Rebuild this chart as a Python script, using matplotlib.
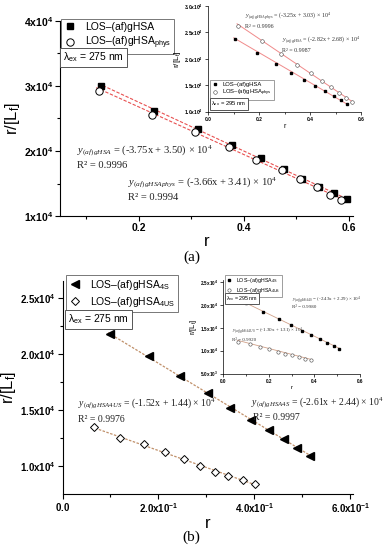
import numpy as np
import matplotlib
matplotlib.use("Agg")
from matplotlib import pyplot as plt

plt.rcParams['font.family'] = ['Liberation Sans', 'DejaVu Sans']
plt.rcParams['mathtext.fontset'] = 'custom'
plt.rcParams['mathtext.rm'] = 'Liberation Serif'
plt.rcParams['mathtext.it'] = 'Liberation Serif:italic'
plt.rcParams['mathtext.sf'] = 'Liberation Sans'
plt.rcParams['mathtext.bf'] = 'Liberation Sans:bold'

# ---- panel (a), lambda_ex = 275 nm
r_a_gHSA = [0.128, 0.229, 0.312, 0.377, 0.432, 0.476, 0.510, 0.543, 0.572, 0.596]
y_a_gHSA = [3.00, 2.62, 2.345, 2.09, 1.90, 1.72, 1.565, 1.45, 1.35, 1.26]
r_a_phys = [0.124, 0.225, 0.308, 0.371, 0.424, 0.472, 0.508, 0.540, 0.564, 0.586]
y_a_phys = [2.93, 2.56, 2.30, 2.06, 1.86, 1.71, 1.565, 1.45, 1.33, 1.24]
fit_a_gHSA = (-3.75, 3.50)
fit_a_phys = (-3.66, 3.41)

# ---- inset (a), lambda_ex = 295 nm
r_ia_gHSA = [0.105, 0.193, 0.265, 0.324, 0.376, 0.421, 0.460, 0.494, 0.520, 0.544]
y_ia_gHSA = [2.37, 2.12, 1.90, 1.74, 1.60, 1.49, 1.40, 1.30, 1.22, 1.14]
r_ia_phys = [0.118, 0.212, 0.286, 0.350, 0.402, 0.445, 0.483, 0.515, 0.541, 0.566]
y_ia_phys = [2.62, 2.33, 2.085, 1.88, 1.73, 1.59, 1.46, 1.36, 1.25, 1.18]
fit_ia_gHSA = (-2.82, 2.68)
fit_ia_phys = (-3.25, 3.03)

# ---- panel (b), lambda_ex = 275 nm
r_b_4S = [0.100, 0.181, 0.246, 0.303, 0.350, 0.393, 0.430, 0.4625, 0.489, 0.515]
y_b_4S = [2.18, 1.98, 1.80, 1.648, 1.52, 1.41, 1.32, 1.235, 1.155, 1.09]
r_b_4US = [0.065, 0.119, 0.169, 0.213, 0.253, 0.286, 0.317, 0.346, 0.376, 0.402]
y_b_4US = [1.344, 1.25, 1.197, 1.123, 1.06, 1.00, 0.946, 0.905, 0.872, 0.836]
fit_b_4S = (-2.61, 2.44)
fit_b_4US = (-1.52, 1.44)

# ---- inset (b), lambda_ex = 295 nm
r_ib_4S = [0.0996, 0.173, 0.243, 0.297, 0.345, 0.386, 0.423, 0.455, 0.485, 0.508]
y_ib_4S = [2.04, 1.85, 1.69, 1.56, 1.44, 1.34, 1.25, 1.17, 1.10, 1.04]
r_ib_4US = [0.066, 0.1185, 0.161, 0.202, 0.239, 0.272, 0.300, 0.331, 0.359, 0.386]
y_ib_4US = [1.20, 1.145, 1.085, 1.03, 0.98, 0.935, 0.90, 0.86, 0.825, 0.79]
fit_ib_4S = (-2.43, 2.29)
fit_ib_4US = (-1.30, 1.31)

SC = 1e4
fig = plt.figure(figsize=(3.83, 5.5), dpi=100)


def fx(px):
    return px / 383.0


def fy(py):
    return 1 - py / 550.0


def sci(m, e):
    # bold tick label like 2.0x10^4
    return '$\\mathbf{%sx10^{%s}}$' % (m, e)


def style_axes(ax, tsize, lw=0.8):
    for s in ['top', 'right']:
        ax.spines[s].set_visible(False)
    for s in ['left', 'bottom']:
        ax.spines[s].set_linewidth(lw)
    ax.tick_params(direction='out', length=3.5 * lw / 0.8, width=lw, labelsize=tsize, pad=1.5)
    ax.tick_params(which='minor', direction='out', length=2 * lw / 0.8, width=lw)
    for t in ax.get_xticklabels() + ax.get_yticklabels():
        t.set_fontweight('bold')


def fitline(ax, r, coef, **kw):
    xs = np.array([min(r) - 0.005, max(r) + 0.005])
    ax.plot(xs, (coef[0] * xs + coef[1]) * SC, **kw)


def lam_box(x, y, txt, size):
    fig.text(x, y, txt, fontsize=size, ha='left', va='top',
             bbox=dict(boxstyle='square,pad=0.25', fc='white', ec='#555555', lw=0.7))


def eq(sub, a, b):
    return '$\\mathit{y}_{\\mathit{%s}}$ = (%sx + %s) × 10$^{4}$' % (sub, a, b)


serif = ['Liberation Serif', 'DejaVu Serif']
LF = 'r/[L$_{\\mathsf{f}}$]'

# ================= panel (a) main
ax = fig.add_axes([fx(60), fy(216), fx(293), 195 / 550])
ax.plot(r_a_gHSA, np.array(y_a_gHSA) * SC, 's', color='black', ms=4.3, label='LOS–(af)gHSA', zorder=3)
ax.plot(r_a_phys, np.array(y_a_phys) * SC, 'o', mfc='white', mec='black', mew=0.7, ms=5.3,
        label='LOS–(af)gHSA$_{\\mathsf{phys}}$', zorder=3)
fitline(ax, r_a_gHSA, fit_a_gHSA, color='#e85050', ls=(0, (3, 1.5)), lw=0.8)
fitline(ax, r_a_phys, fit_a_phys, color='#e85050', ls=(0, (3, 1.5)), lw=0.8)
ax.set_xlim(0.05, 0.608)
ax.set_ylim(1e4, 4e4)
ax.set_xticks([0.2, 0.4, 0.6])
ax.set_xticks([0.1, 0.3, 0.5], minor=True)
ax.set_yticks([1e4, 2e4, 3e4, 4e4])
ax.set_yticks([1.5e4, 2.5e4, 3.5e4], minor=True)
ax.set_yticklabels([sci('1', '4'), sci('2', '4'), sci('3', '4'), sci('4', '4')])
style_axes(ax, 7.5)
ax.set_ylabel(LF, fontsize=12, labelpad=1)
ax.set_xlabel('r', fontsize=12, labelpad=1)
leg = ax.legend(loc='upper left', bbox_to_anchor=(fx(61), fy(19)), bbox_transform=fig.transFigure,
                fontsize=7.5, frameon=True, fancybox=False, edgecolor='#555555', handlelength=1.2,
                handletextpad=0.8, borderpad=0.3, labelspacing=0.25, borderaxespad=0)
leg.get_frame().set_linewidth(0.7)
lam_box(fx(63), fy(51), 'λ$_{\\mathsf{ex}}$ = 275 nm', 7.5)
for (xx, yy, tt) in [(77, 151, eq('(af)gHSA', '-3.75', '3.50')),
                     (77, 166, 'R² = 0.9996'),
                     (128, 183, eq('(af)gHSAphys', '-3.66', '3.41')),
                     (128, 198, 'R² = 0.9994')]:
    fig.text(fx(xx), fy(yy), tt, fontsize=7.6, family=serif, va='center', color='#222222')

# ================= inset (a)
ia = fig.add_axes([fx(208.3), fy(111.7), fx(152.7), 105.7 / 550])
ia.plot(r_ia_gHSA, np.array(y_ia_gHSA) * SC, 's', color='black', ms=2, label='LOS–(af)gHSA', zorder=3)
ia.plot(r_ia_phys, np.array(y_ia_phys) * SC, 'o', mfc='white', mec='#444444', mew=0.4, ms=2.6,
        label='LOS–(af)gHSA$_{\\mathsf{phys}}$', zorder=3)
fitline(ia, r_ia_gHSA, fit_ia_gHSA, color='#f08a8a', lw=0.7)
fitline(ia, r_ia_phys, fit_ia_phys, color='#f08a8a', lw=0.7)
ia.set_xlim(0, 0.6)
ia.set_ylim(1e4, 3e4)
ia.set_xticks([0.0, 0.2, 0.4, 0.6])
ia.set_xticks([0.1, 0.3, 0.5], minor=True)
ia.set_yticks([1e4, 1.5e4, 2e4, 2.5e4, 3e4])
ia.set_yticklabels([sci('1.0', '4'), sci('1.5', '4'), sci('2.0', '4'), sci('2.5', '4'), sci('3.0', '4')])
style_axes(ia, 3.5, lw=0.5)
ia.set_ylabel(LF, fontsize=6, labelpad=1)
ia.set_xlabel('r', fontsize=5, labelpad=1)
leg = ia.legend(loc='upper left', bbox_to_anchor=(fx(210), fy(80)), bbox_transform=fig.transFigure,
                fontsize=4.2, frameon=True, fancybox=False, edgecolor='#555555', handlelength=1.0,
                handletextpad=0.8, borderpad=0.3, labelspacing=0.2, borderaxespad=0)
leg.get_frame().set_linewidth(0.5)
lam_box(fx(211), fy(99.5), 'λ$_{\\mathsf{ex}}$ = 295 nm', 4.2)
for (xx, yy, tt) in [(245, 16, eq('(af)gHSAphys', '-3.25', '3.03')),
                     (245, 27, 'R² = 0.9996'),
                     (282, 40, eq('(af)gHSA', '-2.82', '2.68')),
                     (282, 50, 'R² = 0.9987')]:
    fig.text(fx(xx), fy(yy), tt, fontsize=4.3, family=serif, va='center', color='#333333')

fig.text(0.5, fy(257), '(a)', fontsize=11, family=serif, ha='center', va='center')

# ================= panel (b) main
bx = fig.add_axes([fx(62.5), fy(494.3), fx(290.2), 213.3 / 550])
bx.plot(r_b_4S, np.array(y_b_4S) * SC, '<', color='black', ms=5.5, label='LOS–(af)gHSA$_{\\mathsf{4S}}$', zorder=3)
bx.plot(r_b_4US, np.array(y_b_4US) * SC, 'D', mfc='white', mec='black', mew=0.7, ms=4.5,
        label='LOS–(af)gHSA$_{\\mathsf{4US}}$', zorder=3)
fitline(bx, r_b_4S, fit_b_4S, color='#c0906a', ls=(0, (2, 1.2)), lw=0.9)
fitline(bx, r_b_4US, fit_b_4US, color='#c0906a', ls=(0, (2, 1.2)), lw=0.9)
bx.set_xlim(0, 0.605)
bx.set_ylim(0.744e4, 2.655e4)
bx.set_xticks([0.0, 0.2, 0.4, 0.6])
bx.set_xticklabels(['$\\mathbf{0.0}$', sci('2.0', '-1'), sci('4.0', '-1'), sci('6.0', '-1')])
bx.set_xticks([0.1, 0.3, 0.5], minor=True)
bx.set_yticks([1e4, 1.5e4, 2e4, 2.5e4])
bx.set_yticks([1.25e4, 1.75e4, 2.25e4], minor=True)
bx.set_yticklabels([sci('1.0', '4'), sci('1.5', '4'), sci('2.0', '4'), sci('2.5', '4')])
style_axes(bx, 7)
bx.set_ylabel(LF, fontsize=12, labelpad=1)
bx.set_xlabel('r', fontsize=12, labelpad=1)
leg = bx.legend(loc='upper left', bbox_to_anchor=(fx(66), fy(275)), bbox_transform=fig.transFigure,
                fontsize=7.5, frameon=True, fancybox=False, edgecolor='#555555', handlelength=1.2,
                handletextpad=0.8, borderpad=0.3, labelspacing=0.25, borderaxespad=0)
leg.get_frame().set_linewidth(0.7)
lam_box(fx(68), fy(312.5), 'λ$_{\\mathsf{ex}}$ = 275 nm', 7.5)
for (xx, yy, tt) in [(78, 404, eq('(af)gHSA4US', '-1.52', '1.44')),
                     (78, 420, 'R² = 0.9976'),
                     (251, 403, eq('(af)gHSA4S', '-2.61', '2.44')),
                     (253, 417, 'R² = 0.9997')]:
    fig.text(fx(xx), fy(yy), tt, fontsize=7.0, family=serif, va='center', color='#222222')

# ================= inset (b)
ib = fig.add_axes([fx(223.3), fy(373.5), fx(136.7), 93.8 / 550])
ib.plot(r_ib_4S, np.array(y_ib_4S) * SC, 's', color='black', ms=1.8, label='LOS–(af)gHSA$_{\\mathsf{4S}}$', zorder=3)
ib.plot(r_ib_4US, np.array(y_ib_4US) * SC, 'o', mfc='white', mec='#444444', mew=0.4, ms=2.4,
        label='LOS–(af)gHSA$_{\\mathsf{4US}}$', zorder=3)
fitline(ib, r_ib_4S, fit_ib_4S, color='#d0a088', lw=0.6)
fitline(ib, r_ib_4US, fit_ib_4US, color='#d0a088', lw=0.6)
ib.set_xlim(0, 0.6)
ib.set_ylim(0.5e4, 2.56e4)
ib.set_xticks([0.0, 0.2, 0.4, 0.6])
ib.set_xticks([0.1, 0.3, 0.5], minor=True)
ib.set_yticks([0.5e4, 1e4, 1.5e4, 2e4, 2.5e4])
ib.set_yticklabels([sci('5.0', '3'), sci('1.0', '4'), sci('1.5', '4'), sci('2.0', '4'), sci('2.5', '4')])
style_axes(ib, 3.3, lw=0.5)
ib.set_ylabel(LF, fontsize=5.5, labelpad=1)
ib.set_xlabel('r', fontsize=4.5, labelpad=1)
leg = ib.legend(loc='upper left', bbox_to_anchor=(fx(225), fy(274.7)), bbox_transform=fig.transFigure,
                fontsize=3.8, frameon=True, fancybox=False, edgecolor='#555555', handlelength=1.0,
                handletextpad=0.8, borderpad=0.3, labelspacing=0.2, borderaxespad=0)
leg.get_frame().set_linewidth(0.5)
lam_box(fx(226), fy(294.5), 'λ$_{\\mathsf{ex}}$ = 295 nm', 3.8)
for (xx, yy, tt) in [(292, 300, eq('(af)gHSA4S', '-2.43', '2.29')),
                     (292, 307.5, 'R² = 0.9980'),
                     (232, 331.5, eq('(af)gHSA4US', '-1.30', '1.31')),
                     (232, 340, 'R² = 0.9920')]:
    fig.text(fx(xx), fy(yy), tt, fontsize=3.6, family=serif, va='center', color='#333333')

fig.text(0.5, fy(537), '(b)', fontsize=11, family=serif, ha='center', va='center')

fig.savefig('out.png', dpi=100)
